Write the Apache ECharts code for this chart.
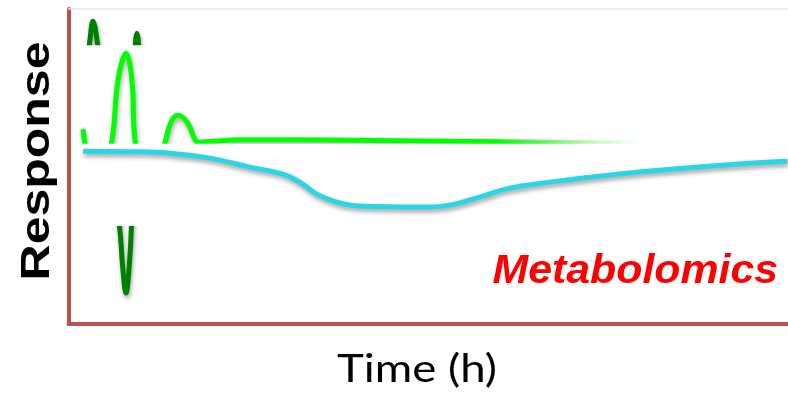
<!DOCTYPE html>
<html><head><meta charset="utf-8">
<script src="https://cdn.jsdelivr.net/npm/echarts@6/dist/echarts.min.js"></script>
<style>html,body{margin:0;padding:0;background:#fff}#c{width:788px;height:394px}</style>
</head><body><div id="c"></div>
<script>
// Time (arbitrary units) vs response (arbitrary units)
const darkGreen = [[1.45,12.37],[1.85,26.37],[2.1,28.07],[2.45,30.27],[2.9,28.07],[3.25,24.87],[4.15,16.37],[5.1,9.77],[5.45,5.37],[5.75,3.07],[6.05,5.37],[6.3,9.77],[6.55,20.37],[6.7,28.07],[6.85,29.07],[7.0,28.07],[7.25,20.37],[7.75,12.37]];
const lightGreen = [[1.45,19.47],[1.75,17.37],[2.75,12.37],[4.3,18.07],[4.95,24.37],[5.75,27.07],[6.35,24.37],[6.7,18.07],[8.15,13.37],[9.65,18.07],[10.25,20.17],[10.95,20.87],[11.65,20.47],[12.15,19.67],[12.55,18.67],[12.95,18.17],[14.65,18.27],[16.85,18.42],[23.15,18.42],[33.15,18.32],[43.15,18.22],[53.15,18.12],[57.15,18.07]];
const cyan = [[1.45,17.27],[6.15,17.22],[10.15,17.07],[14.15,16.57],[18.15,15.67],[21.45,14.97],[23.15,14.17],[24.85,12.97],[26.85,12.17],[29.15,11.77],[35.45,11.67],[38.15,11.87],[41.45,12.77],[44.15,13.57],[48.15,14.17],[54.85,14.97],[61.45,15.57],[68.15,16.07],[71.95,16.27]];
const xRange = [0, 72];
const yRange = [0, 31.5];
// bands (in response units) where the upper layers mask the lower curves
const maskDark = [9.77, 27.87];
const maskLight = [9.77, 18.02];
const yTitle = 'Response';
const xTitle = 'Time (h)';
const tag = 'Metabolomics';

const chart = echarts.init(document.getElementById('c'), null, {renderer: 'canvas'});
const axisRed = {show: true, onZero: false, lineStyle: {color: '#c0504d', width: 4}};
const shadow = {shadowColor: 'rgba(0,0,0,0.35)', shadowBlur: 4, shadowOffsetX: 1, shadowOffsetY: 3};
chart.setOption({
  animation: false,
  grid: {left: 68.5, right: 0, top: 9, bottom: 70.3},
  xAxis: [
    {type: 'value', min: xRange[0], max: xRange[1], position: 'bottom', axisLine: axisRed, axisTick: {show: false}, axisLabel: {show: false}, splitLine: {show: false}},
    {type: 'value', min: xRange[0], max: xRange[1], position: 'top', axisLine: {show: true, onZero: false, lineStyle: {color: '#efe4e8', width: 1.5}}, axisTick: {show: false}, axisLabel: {show: false}, splitLine: {show: false}}
  ],
  yAxis: {type: 'value', min: yRange[0], max: yRange[1], axisLine: axisRed, axisTick: {show: false}, axisLabel: {show: false}, splitLine: {show: false}},
  series: [
    {type: 'line', data: darkGreen, z: 1, smooth: 0.4, showSymbol: false, lineStyle: Object.assign({color: '#008000', width: 5}, shadow)},
    {type: 'line', data: lightGreen, z: 3, smooth: 0.4, showSymbol: false, lineStyle: Object.assign({width: 5, color: new echarts.graphic.LinearGradient(0, 0, 1, 0, [
      {offset: 0, color: 'rgba(0,255,0,1)'}, {offset: 0.74, color: 'rgba(0,255,0,1)'}, {offset: 0.9, color: 'rgba(0,255,0,0.25)'}, {offset: 1, color: 'rgba(0,255,0,0)'}])}, shadow)},
    {type: 'line', data: cyan, z: 5, smooth: 0.4, showSymbol: false, lineStyle: Object.assign({color: '#2bd5e3', width: 5}, shadow)}
  ]
});

function band(b, xEnd) {
  const p1 = chart.convertToPixel({gridIndex: 0}, [0.3, b[1]]);
  const p2 = chart.convertToPixel({gridIndex: 0}, [xEnd, b[0]]);
  return {x: p1[0], y: p1[1], width: p2[0] - p1[0], height: p2[1] - p1[1]};
}
chart.setOption({
  graphic: [
    {type: 'rect', z: 2, silent: true, shape: band(maskDark, 20), style: {fill: '#ffffff'}},
    {type: 'rect', z: 4, silent: true, shape: band(maskLight, 60), style: {fill: '#ffffff'}},
    {type: 'text', z: 10, x: 38, y: 161, rotation: Math.PI / 2, scaleX: 1.25, style: {text: yTitle, fill: '#000', font: 'bold 40px "Liberation Sans", Arial, sans-serif', textAlign: 'center', textVerticalAlign: 'middle'}},
    {type: 'text', z: 10, x: 417, y: 370, scaleX: 1.2, style: {text: xTitle, fill: '#000', font: '38px Lato, "Open Sans", sans-serif', textAlign: 'center', textVerticalAlign: 'middle'}},
    {type: 'text', z: 10, x: 778, y: 272, scaleX: 1.07, style: {text: tag, fill: '#ff0000', font: 'italic bold 40px "Liberation Sans", Arial, sans-serif', textAlign: 'right', textVerticalAlign: 'middle'}}
  ]
});
</script></body></html>
